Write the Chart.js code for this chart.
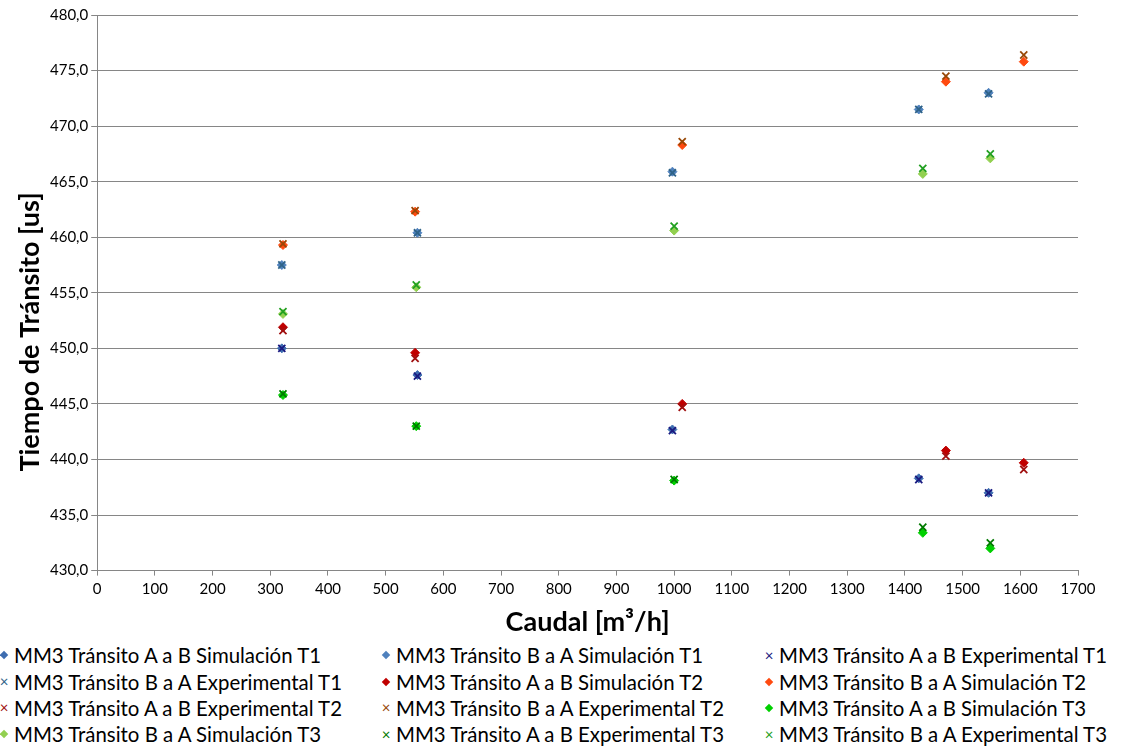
<!DOCTYPE html>
<html lang="es">
<head>
<meta charset="UTF-8" />
<title>Tiempo de Tránsito vs Caudal</title>
<script src="https://cdn.jsdelivr.net/npm/chart.js"></script>
<style>
  html, body { margin: 0; padding: 0; background: #fff; }
  body { width: 1122px; height: 751px; overflow: hidden; font-family: Lato, "Liberation Sans", sans-serif; }
  #chart-box { position: relative; width: 1122px; height: 642px; }
  #legend { display: grid; grid-template-columns: 382px 383px 357px; row-gap: 0; margin: 0; padding: 0; }
  .item { display: flex; align-items: center; height: 26.4px; font-size: 20.4px; color: #000; white-space: nowrap; }
  .mk { width: 10px; margin-left: -1px; margin-right: 5px; display: inline-flex; justify-content: center; align-items: center; }
  .dia { width: 6px; height: 6px; transform: rotate(45deg); }
  .crs { font-size: 15px; line-height: 1; }
</style>
</head>
<body>
<div id="chart-box"><canvas id="grafico"></canvas></div>
<div id="legend"></div>
<script>
// caudal [m3/h] de cada ensayo
const caudalT1 = [320, 555, 997, 1424, 1545];
const caudalT2 = [322, 551, 1014, 1471, 1606];
const caudalT3 = [322, 553, 1000, 1431, 1548];

// tiempos de transito [us]
const abSimT1 = [450.0, 447.6, 442.7, 438.3, 437.0];
const baSimT1 = [457.5, 460.4, 465.9, 471.5, 473.0];
const abExpT1 = [450.0, 447.5, 442.6, 438.2, 437.0];
const baExpT1 = [457.5, 460.4, 465.8, 471.5, 472.9];
const abSimT2 = [451.9, 449.6, 445.0, 440.8, 439.7];
const baSimT2 = [459.3, 462.3, 468.3, 474.0, 475.8];
const abExpT2 = [451.6, 449.1, 444.7, 440.3, 439.1];
const baExpT2 = [459.4, 462.4, 468.6, 474.5, 476.4];
const abSimT3 = [445.8, 443.0, 438.1, 433.4, 432.0];
const baSimT3 = [453.1, 455.5, 460.6, 465.7, 467.1];
const abExpT3 = [445.9, 443.0, 438.2, 433.9, 432.5];
const baExpT3 = [453.3, 455.7, 461.0, 466.2, 467.5];

const yMin = 430, yMax = 480, yStep = 5;
const xMin = 0, xMax = 1700, xStep = 100;

const FONT = 'Lato, "Liberation Sans", sans-serif';

function pts(xs, ys) {
  return xs.map((x, i) => ({ x: x, y: ys[i] }));
}

function serie(label, xs, ys, color, sim) {
  return {
    label: label,
    data: pts(xs, ys),
    pointStyle: sim ? 'rectRot' : 'crossRot',
    pointRadius: sim ? 4.5 : 5,
    borderWidth: sim ? 1 : 1.8,
    backgroundColor: color,
    borderColor: color,
    showLine: false,
  };
}

const datasets = [
  serie('MM3 Tránsito A a B Simulación T1', caudalT1, abSimT1, '#3E6DB0', true),
  serie('MM3 Tránsito B a A Simulación T1', caudalT1, baSimT1, '#4F81BD', true),
  serie('MM3 Tránsito A a B Experimental T1', caudalT1, abExpT1, '#1A1A80', false),
  serie('MM3 Tránsito B a A Experimental T1', caudalT1, baExpT1, '#2F6388', false),
  serie('MM3 Tránsito A a B Simulación T2', caudalT2, abSimT2, '#C00000', true),
  serie('MM3 Tránsito B a A Simulación T2', caudalT2, baSimT2, '#FF4A10', true),
  serie('MM3 Tránsito A a B Experimental T2', caudalT2, abExpT2, '#A01010', false),
  serie('MM3 Tránsito B a A Experimental T2', caudalT2, baExpT2, '#984807', false),
  serie('MM3 Tránsito A a B Simulación T3', caudalT3, abSimT3, '#00D000', true),
  serie('MM3 Tránsito B a A Simulación T3', caudalT3, baSimT3, '#92D050', true),
  serie('MM3 Tránsito A a B Experimental T3', caudalT3, abExpT3, '#007A00', false),
  serie('MM3 Tránsito B a A Experimental T3', caudalT3, baExpT3, '#22A022', false),
];
// en Excel la serie posterior queda encima
datasets.forEach((d, i) => { d.order = datasets.length - 1 - i; });

// titulo del eje Y, solapado con las etiquetas como en el original
const yTitle = {
  id: 'yTitle',
  afterDraw(chart) {
    const ctx = chart.ctx;
    ctx.save();
    ctx.translate(30, 332);
    ctx.rotate(-Math.PI / 2);
    ctx.font = 'bold 27px ' + FONT;
    ctx.fillStyle = '#000';
    ctx.textAlign = 'center';
    ctx.textBaseline = 'middle';
    ctx.fillText('Tiempo de Tránsito [us]', 0, 0);
    ctx.restore();
  }
};

// leyenda en rejilla de 3 columnas
const htmlLegend = {
  id: 'htmlLegend',
  afterUpdate(chart) {
    const box = document.getElementById('legend');
    box.innerHTML = '';
    chart.data.datasets.forEach(ds => {
      const item = document.createElement('div');
      item.className = 'item';
      const mk = document.createElement('span');
      mk.className = 'mk';
      if (ds.pointStyle === 'rectRot') {
        const d = document.createElement('span');
        d.className = 'dia';
        d.style.background = ds.backgroundColor;
        mk.appendChild(d);
      } else {
        const c = document.createElement('span');
        c.className = 'crs';
        c.style.color = ds.borderColor;
        c.textContent = '×';
        mk.appendChild(c);
      }
      item.appendChild(mk);
      item.appendChild(document.createTextNode(ds.label));
      box.appendChild(item);
    });
  }
};

new Chart(document.getElementById('grafico'), {
  type: 'scatter',
  data: { datasets: datasets },
  plugins: [yTitle, htmlLegend],
  options: {
    responsive: true,
    maintainAspectRatio: false,
    animation: false,
    layout: { padding: { left: 47, right: 44, top: 15, bottom: 4 } },
    plugins: {
      legend: { display: false },
      tooltip: { enabled: false },
    },
    scales: {
      x: {
        type: 'linear',
        min: xMin,
        max: xMax,
        ticks: {
          stepSize: xStep,
          color: '#000',
          font: { family: FONT, size: 15 },
          padding: 5,
          maxRotation: 0,
          callback: v => String(v),
        },
        grid: { drawOnChartArea: false, drawTicks: true, tickLength: 5, color: '#868686' },
        border: { color: '#868686', width: 1 },
        title: {
          display: true,
          text: 'Caudal [m³/h]',
          color: '#000',
          font: { family: FONT, size: 27, weight: 'bold' },
          padding: { top: 2, bottom: 0 },
        },
      },
      y: {
        min: yMin,
        max: yMax,
        ticks: {
          stepSize: yStep,
          color: '#000',
          font: { family: FONT, size: 15 },
          padding: 3,
          callback: v => v.toFixed(1).replace('.', ','),
        },
        grid: { color: '#868686', lineWidth: 1, tickLength: 6 },
        border: { color: '#868686', width: 1 },
      },
    },
  },
});
</script>
</body>
</html>
